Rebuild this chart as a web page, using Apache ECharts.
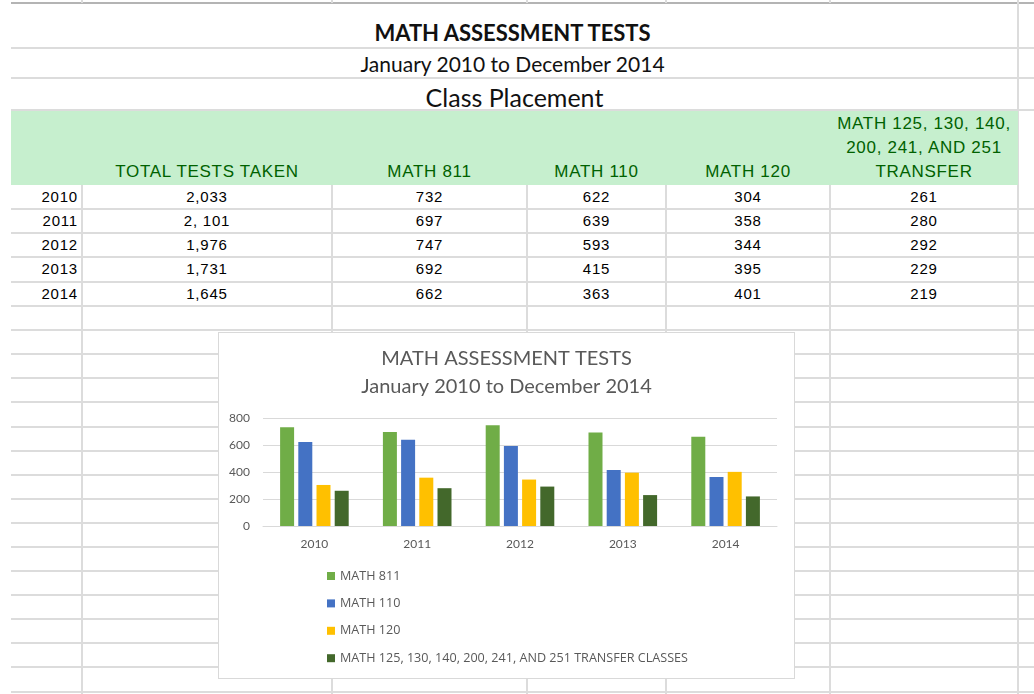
<!DOCTYPE html>
<html>
<head>
<meta charset="utf-8">
<script src="https://cdn.jsdelivr.net/npm/echarts@6/dist/echarts.min.js"></script>
<style>
body{margin:0;background:#fff;width:1034px;height:694px;overflow:hidden;position:relative;}
.hl{position:absolute;height:2px;background:#dcdcdc;}
.vl{position:absolute;width:2px;background:#dcdcdc;}
.txt{position:absolute;white-space:nowrap;}
.title{font-family:Lato,sans-serif;color:#111;text-align:center;line-height:30px;}
.head{font-family:"Liberation Sans",Arial,sans-serif;font-size:17px;letter-spacing:0.7px;color:#006100;text-align:center;line-height:24px;}
.cell{font-family:"Liberation Sans",Arial,sans-serif;font-size:15px;letter-spacing:0.8px;color:#000;line-height:24px;}
#band{position:absolute;left:11px;top:111px;width:1007px;height:74px;background:#c6efce;}
#chart{position:absolute;left:218px;top:332px;width:575px;height:345px;border:1px solid #d9d9d9;background:#fff;}
</style>
</head>
<body>
<div id="sheet"></div>
<div id="chart"></div>
<script>
// table / chart data
var years = ['2010', '2011', '2012', '2013', '2014'];
var totalTests = ['2,033', '2, 101', '1,976', '1,731', '1,645'];
var math811 = [732, 697, 747, 692, 662];
var math110 = [622, 639, 593, 415, 363];
var math120 = [304, 358, 344, 395, 401];
var transfer = [261, 280, 292, 229, 219];
var headers = ['TOTAL TESTS TAKEN', 'MATH 811', 'MATH 110', 'MATH 120', 'MATH 125, 130, 140,\n200, 241, AND 251\nTRANSFER'];
var seriesNames = ['MATH 811', 'MATH 110', 'MATH 120', 'MATH 125, 130, 140, 200, 241, AND 251 TRANSFER CLASSES'];
var seriesColors = ['#70ad47', '#4472c4', '#ffc000', '#43682b'];
var yMin = 0, yMax = 800, yStep = 200;

// sheet geometry
var cols = [82, 332, 527, 666, 830, 1018];
var rows = [209, 233, 257, 282, 306, 330, 354, 378, 402, 427, 451, 475, 499, 523, 547, 571, 595, 619, 643, 667, 692];

var sheet = document.getElementById('sheet');
function add(cls, css, text) {
	var d = document.createElement('div');
	d.className = cls;
	d.style.cssText = css;
	if (text !== undefined) d.textContent = text;
	sheet.appendChild(d);
	return d;
}

// grid lines
add('hl', 'left:11px;top:2px;width:1023px;background:#b4b4b4;');
add('hl', 'left:11px;top:47px;width:1023px;');
add('hl', 'left:11px;top:77px;width:1023px;');
add('hl', 'left:11px;top:109px;width:1023px;');
rows.forEach(function (y) { add('hl', 'left:11px;top:' + (y - 1) + 'px;width:1023px;'); });
cols.forEach(function (x) { add('vl', 'left:' + (x - 1) + 'px;top:0;height:3px;'); });
cols.forEach(function (x) { add('vl', 'left:' + (x - 1) + 'px;top:185px;height:509px;'); });
add('vl', 'left:1017px;top:0;height:694px;');
var band = document.createElement('div');
band.id = 'band';
sheet.appendChild(band);

// titles
add('txt title', 'left:11px;width:1003px;top:18px;font-size:22px;font-weight:bold;', 'MATH ASSESSMENT TESTS');
add('txt title', 'left:11px;width:1003px;top:49px;font-size:21px;', 'January 2010 to December 2014');
add('txt title', 'left:13px;width:1003px;top:82px;font-size:25px;', 'Class Placement');

// header row
headers.forEach(function (h, i) {
	var lines = h.split('\n');
	var d = add('txt head', 'left:' + cols[i] + 'px;width:' + (cols[i + 1] - cols[i]) + 'px;top:' + (184 - lines.length * 24) + 'px;');
	d.innerHTML = lines.join('<br>');
});

// data rows
var tops = [185, 209, 233, 257, 282];
var colsData = [totalTests, math811, math110, math120, transfer];
years.forEach(function (yr, r) {
	add('txt cell', 'left:11px;width:67px;text-align:right;top:' + tops[r] + 'px;', yr);
	colsData.forEach(function (arr, c) {
		add('txt cell', 'left:' + cols[c] + 'px;width:' + (cols[c + 1] - cols[c]) + 'px;text-align:center;top:' + tops[r] + 'px;', String(arr[r]));
	});
});

// chart
var chart = echarts.init(document.getElementById('chart'));
var values = [math811, math110, math120, transfer];
chart.setOption({
	animation: false,
	title: {
		text: 'MATH ASSESSMENT TESTS\nJanuary 2010 to December 2014',
		left: 'center',
		top: 7,
		textStyle: {fontFamily: 'Lato', fontSize: 20, fontWeight: 'normal', color: '#595959', lineHeight: 28}
	},
	grid: {left: 44, right: 17, top: 85, height: 108},
	legend: {
		orient: 'vertical',
		left: 108,
		top: 236,
		padding: 0,
		icon: 'rect',
		itemWidth: 8,
		itemHeight: 8,
		itemGap: 13.4,
		textStyle: {color: '#595959', fontSize: 12.6, lineHeight: 14, fontFamily: 'Open Sans'},
		data: seriesNames
	},
	xAxis: {
		type: 'category',
		data: years,
		axisLine: {lineStyle: {color: '#d9d9d9'}},
		axisTick: {show: false},
		axisLabel: {color: '#595959', fontSize: 12, margin: 12, fontFamily: 'Lato'}
	},
	yAxis: {
		type: 'value',
		min: yMin,
		max: yMax,
		interval: yStep,
		axisLabel: {color: '#595959', fontSize: 12, margin: 13, fontFamily: 'Lato'},
		splitLine: {lineStyle: {color: '#d9d9d9'}}
	},
	series: seriesNames.map(function (n, i) {
		return {
			name: n,
			type: 'bar',
			data: values[i],
			barWidth: 14,
			barGap: '30%',
			itemStyle: {color: seriesColors[i]}
		};
	})
});
</script>
</body>
</html>
